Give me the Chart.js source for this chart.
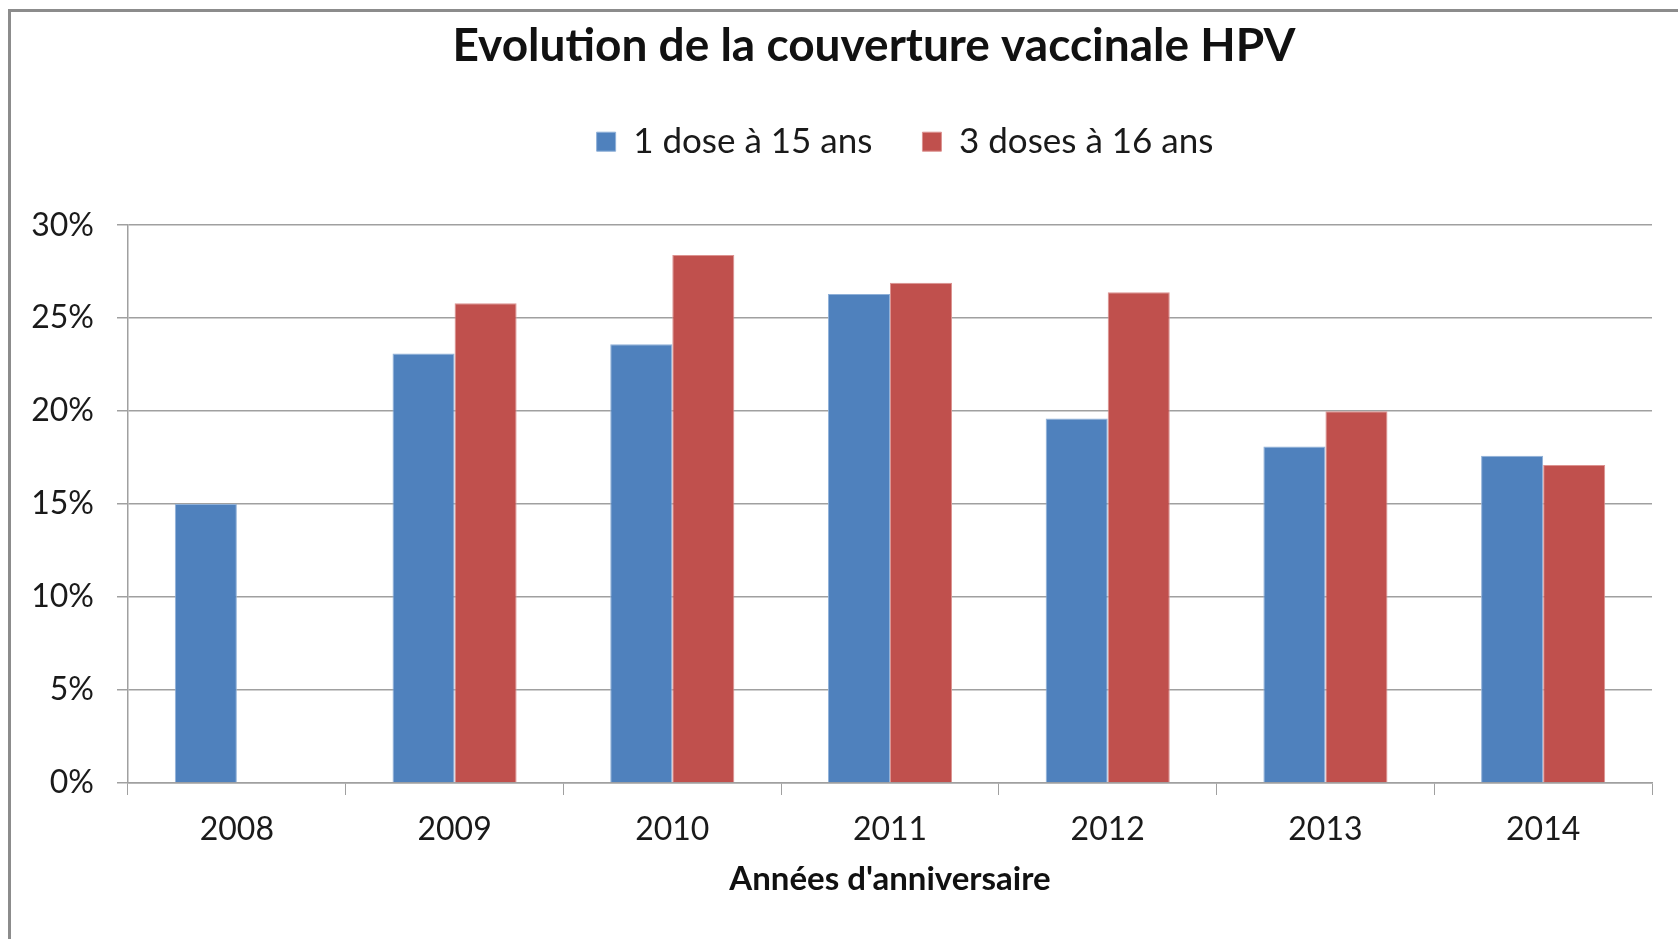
<!DOCTYPE html>
<html>
<head>
<meta charset="utf-8">
<script src="https://cdn.jsdelivr.net/npm/chart.js@4/dist/chart.umd.min.js"></script>
<style>
  html, body { margin: 0; padding: 0; background: #fff; }
  #wrap { position: relative; width: 1678px; height: 939px; overflow: hidden; }
  #frame { position: absolute; left: 8px; top: 9px; width: 1700px; height: 1000px;
           border-left: 3px solid #8c8c8c; border-top: 3px solid #8c8c8c; }
  canvas { position: absolute; left: 0; top: 0; }
</style>
</head>
<body>
<div id="wrap">
  <div id="frame"></div>
  <canvas id="hpvChart" width="1678" height="939"></canvas>
</div>
<script>
// values (% coverage)
const years = ["2008", "2009", "2010", "2011", "2012", "2013", "2014"];
const oneDose15 = [15.0, 23.1, 23.6, 26.3, 19.6, 18.1, 17.6];
const threeDoses16 = [null, 25.8, 28.4, 26.9, 26.4, 20.0, 17.1];
const yTicks = [0, 5, 10, 15, 20, 25, 30];

const gridGrey = "#a0a0a0";

// more room under the legend; title and legend sit a bit right of centre in the original
const headerTweak = {
    id: "headerTweak",
    beforeInit(chart) {
        const fit = chart.legend.fit;
        chart.legend.fit = function () {
            fit.call(this);
            this.height += 56;
        };
    },
    beforeDraw(chart) {
        const shift = (box, dx) => {
            if (box && !box._shifted) {
                box.left += dx;
                box.right += dx;
                box._shifted = true;
            }
        };
        shift(chart.titleBlock, 48);
        shift(chart.legend, 79);
    }
};

const ctx = document.getElementById("hpvChart").getContext("2d");
new Chart(ctx, {
    type: "bar",
    data: {
        labels: years,
        datasets: [{
            label: "1 dose à 15 ans",
            data: oneDose15,
            backgroundColor: "#4f81bd",
            borderColor: "#8fb0d8",
            borderWidth: 1
        }, {
            label: "3 doses à 16 ans",
            data: threeDoses16,
            backgroundColor: "#c0504d",
            borderColor: "#dc9290",
            borderWidth: 1
        }]
    },
    plugins: [headerTweak],
    options: {
        responsive: false,
        animation: false,
        layout: { padding: { top: 19, left: 0, right: 26, bottom: 0 } },
        datasets: {
            bar: { barPercentage: 1, categoryPercentage: 0.57 }
        },
        plugins: {
            title: {
                display: true,
                text: "Evolution de la couverture vaccinale HPV",
                color: "#111",
                font: { family: "Lato", size: 46, weight: "bold" },
                padding: { top: 0, bottom: 0 }
            },
            legend: {
                display: true,
                labels: {
                    color: "#1a1a1a",
                    font: { family: "Lato", size: 35 },
                    boxWidth: 19,
                    boxHeight: 19,
                    padding: 50
                }
            },
            tooltip: { enabled: false }
        },
        scales: {
            x: {
                grid: {
                    display: true,
                    offset: true,
                    drawOnChartArea: false,
                    drawTicks: true,
                    tickLength: 12,
                    color: gridGrey
                },
                border: { display: true, color: gridGrey, width: 1.5 },
                ticks: {
                    color: "#1a1a1a",
                    font: { family: "Lato", size: 32 },
                    padding: 15
                },
                title: {
                    display: true,
                    text: "Années d'anniversaire",
                    color: "#111",
                    font: { family: "Lato", size: 33, weight: "bold" },
                    padding: { top: 10, bottom: 40 }
                },
                afterFit(scale) { scale.height = 156; }
            },
            y: {
                min: 0,
                max: 30,
                afterBuildTicks(scale) {
                    scale.ticks = yTicks.map(v => ({ value: v }));
                },
                grid: {
                    color: gridGrey,
                    lineWidth: 1.5,
                    drawTicks: true,
                    tickLength: 11
                },
                border: { display: true, color: gridGrey, width: 1.5 },
                ticks: {
                    color: "#1a1a1a",
                    font: { family: "Lato", size: 32 },
                    padding: 23,
                    callback: v => v + "%"
                },
                afterFit(scale) { scale.width = 128; }
            }
        }
    }
});
</script>
</body>
</html>
